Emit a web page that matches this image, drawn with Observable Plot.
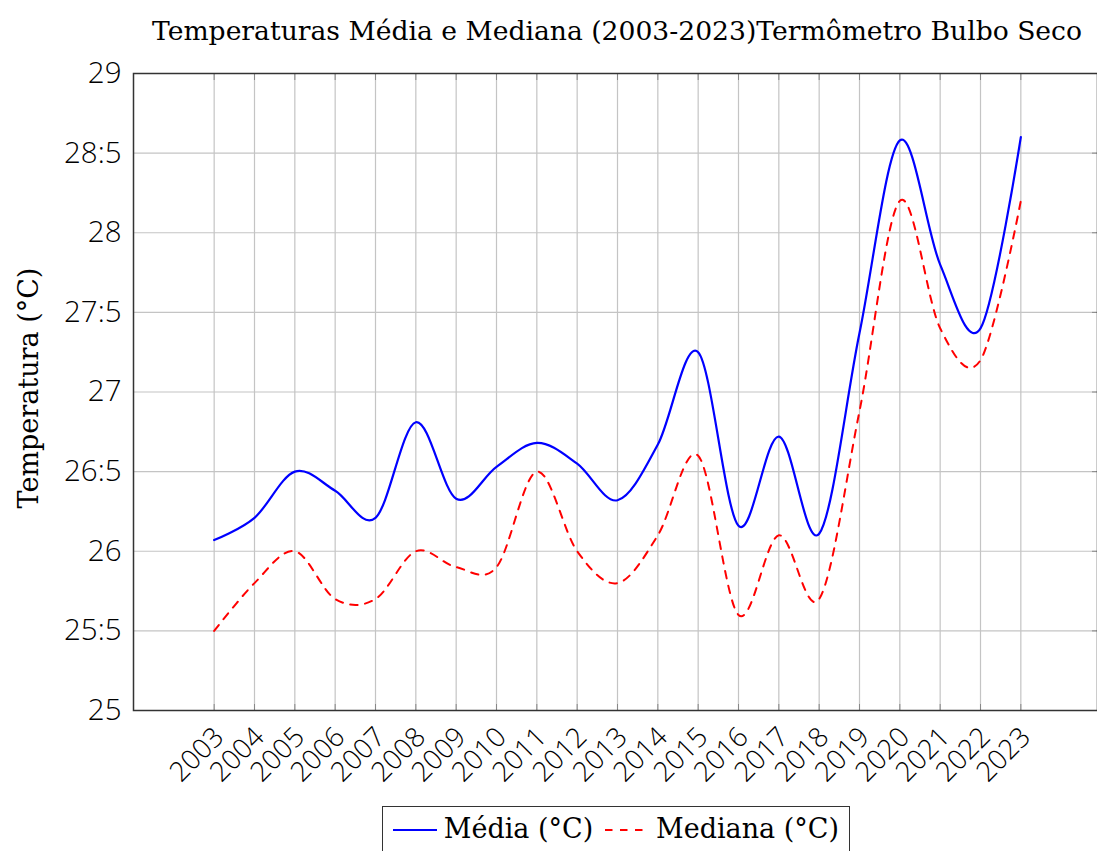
<!DOCTYPE html>
<html>
<head>
<meta charset="utf-8">
<script src="https://cdn.jsdelivr.net/npm/d3@7"></script>
<script src="https://cdn.jsdelivr.net/npm/@observablehq/plot@0.6"></script>
<style>
  html, body { margin: 0; padding: 0; background: white; }
  #wrap { position: relative; width: 1097px; height: 851px; overflow: hidden; background: white; }
  .serif { font-family: "DejaVu Serif", "Liberation Serif", serif; color: #000; }
  #title { position: absolute; left: 0; width: 1234px; top: 15px; text-align: center; font-size: 26.6px; white-space: nowrap; }
  #ylabel { position: absolute; left: 28px; top: 388px; font-size: 27px; white-space: nowrap; transform: translate(-50%, -50%) rotate(-90deg); }
  #legend { position: absolute; left: 382px; top: 806px; width: 468px; height: 60px; border: 1.5px solid #333; box-sizing: border-box; display: flex; align-items: flex-start; padding-top: 6px; padding-left: 8px; font-size: 27px; white-space: nowrap; background: white; }
  #legend svg { margin-top: 14px; }
  #chart { position: absolute; left: 0; top: 0; }
</style>
</head>
<body>
<div id="wrap">
  <div id="chart"></div>
  <div id="title" class="serif"></div>
  <div id="ylabel" class="serif"></div>
  <div id="legend" class="serif"></div>
</div>
<script>
const titleText = "Temperaturas Média e Mediana (2003-2023)Termômetro Bulbo Seco";
const yLabelText = "Temperatura (°C)";
const seriesNames = ["Média (°C)", "Mediana (°C)"];
const years = [2003, 2004, 2005, 2006, 2007, 2008, 2009, 2010, 2011, 2012, 2013,
               2014, 2015, 2016, 2017, 2018, 2019, 2020, 2021, 2022, 2023];
const media = [26.07, 26.21, 26.50, 26.38, 26.21, 26.81, 26.33, 26.53, 26.68, 26.55, 26.32,
               26.67, 27.25, 26.16, 26.72, 26.11, 27.37, 28.58, 27.80, 27.40, 28.60];
const mediana = [25.50, 25.80, 26.00, 25.70, 25.70, 26.00, 25.90, 25.90, 26.50, 26.00, 25.80,
                 26.10, 26.60, 25.60, 26.10, 25.70, 26.88, 28.20, 27.40, 27.20, 28.20];
const yTicks = [25, 25.5, 26, 26.5, 27, 27.5, 28, 28.5, 29];
const yTickLabels = ["25", "25:5", "26", "26:5", "27", "27:5", "28", "28:5", "29"];
const xTickLabels = years.map(String);
const colors = ["blue", "red"];

const dataMedia = years.map((yr, i) => ({year: yr, value: media[i]}));
const dataMediana = years.map((yr, i) => ({year: yr, value: mediana[i]}));

const chart = Plot.plot({
  width: 1097,
  height: 851,
  marginTop: 73,
  marginBottom: 141,
  marginLeft: 133,
  marginRight: 0,
  style: {fontFamily: "'Open Sans', sans-serif", fontWeight: 300, background: "white", color: "#000"},
  x: {domain: [2001, 2025], range: [133, 1101]},
  y: {domain: [25, 29]},
  marks: [
    Plot.gridX(years, {stroke: "#c4c4c4", strokeOpacity: 1, strokeWidth: 1.2}),
    Plot.gridY(yTicks, {stroke: "#c4c4c4", strokeOpacity: 1, strokeWidth: 1.2}),
    Plot.axisX(years, {anchor: "bottom", tickSize: -6, stroke: "#888", text: null, label: null}),
    Plot.axisX(years, {anchor: "top", tickSize: -6, stroke: "#888", text: null, label: null}),
    Plot.axisY(yTicks, {anchor: "right", tickSize: -6, stroke: "#888", text: null, label: null}),
    Plot.axisY(yTicks, {anchor: "left", tickSize: 0, tickPadding: 12, fontSize: 29.5,
      tickFormat: (d) => yTickLabels[yTicks.indexOf(d)], label: null}),
    Plot.axisX(years, {anchor: "bottom", tickSize: 0, tickPadding: 22, dx: 5, tickRotate: -45, fontSize: 27.5,
      tickFormat: (d) => xTickLabels[years.indexOf(d)], label: null}),
    Plot.frame({stroke: "#333", strokeWidth: 1.5}),
    Plot.line(dataMediana, {x: "year", y: "value", stroke: colors[1], strokeWidth: 2,
      strokeDasharray: "7.5,7.5", curve: "cardinal", tension: 0}),
    Plot.line(dataMedia, {x: "year", y: "value", stroke: colors[0], strokeWidth: 2.2,
      curve: "cardinal", tension: 0})
  ]
});
document.getElementById("chart").appendChild(chart);

document.getElementById("title").textContent = titleText;
document.getElementById("ylabel").textContent = yLabelText;

const legend = document.getElementById("legend");
seriesNames.forEach((name, i) => {
  const ns = "http://www.w3.org/2000/svg";
  const s = document.createElementNS(ns, "svg");
  s.setAttribute("width", 48); s.setAttribute("height", 6);
  const l = document.createElementNS(ns, "line");
  l.setAttribute("x1", 2); l.setAttribute("x2", 46); l.setAttribute("y1", 3); l.setAttribute("y2", 3);
  l.setAttribute("stroke", colors[i]); l.setAttribute("stroke-width", 2.2);
  if (i === 1) l.setAttribute("stroke-dasharray", "7.5,7.5");
  s.appendChild(l);
  legend.appendChild(s);
  const t = document.createElement("span");
  t.textContent = name;
  t.style.marginLeft = "6px";
  t.style.marginRight = "10px";
  legend.appendChild(t);
});
</script>
</body>
</html>
